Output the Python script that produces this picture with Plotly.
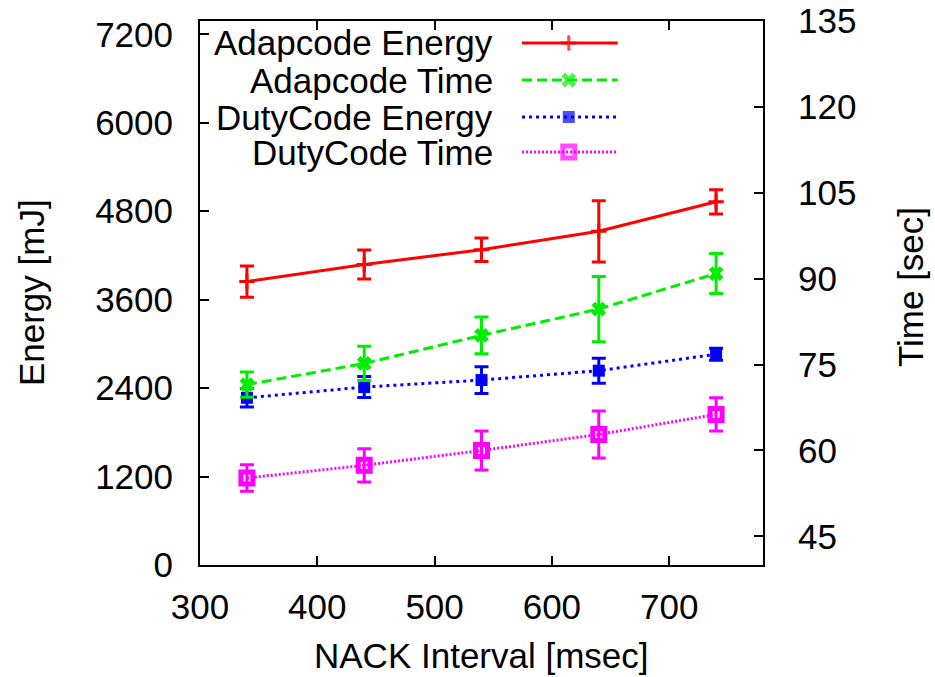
import plotly.graph_objects as go

# ---- data ----
nack_interval = [340, 440, 540, 640, 740]

adap_energy = [3845, 4077, 4277, 4527, 4927]
adap_energy_err = [211, 198, 160, 416, 164]

adap_time = [71.5, 75.2, 80.1, 84.7, 90.9]
adap_time_err = [2.2, 3.0, 3.2, 5.7, 3.5]

duty_energy = [2268, 2414, 2509, 2636, 2859]
duty_energy_err = [125, 143, 182, 170, 80]

duty_time = [55.2, 57.4, 60.0, 62.8, 66.3]
duty_time_err = [2.3, 2.9, 3.4, 4.1, 2.9]

series_names = ["Adapcode Energy", "Adapcode Time", "DutyCode Energy", "DutyCode Time"]
energy_ticks = [0, 1200, 2400, 3600, 4800, 6000, 7200]
time_ticks = [45, 60, 75, 90, 105, 120, 135]
x_ticks = [300, 400, 500, 600, 700]

FONT = "Liberation Sans, Arial, Helvetica, sans-serif"
FS = 35

styles = [
    dict(color="#ff0000", dash="solid", symbol="cross-thin", size=11, mlw=3),
    dict(color="#00ee00", dash="10px,5px", symbol="x", size=13, mlw=0),
    dict(color="#0000ff", dash="3px,4px", symbol="square", size=12, mlw=0),
    dict(color="#ff00ff", dash="2px,2px", symbol="square-open", size=12, mlw=5),
]

fig = go.Figure()

data_sets = [
    (adap_energy, adap_energy_err, "y"),
    (adap_time, adap_time_err, "y2"),
    (duty_energy, duty_energy_err, "y"),
    (duty_time, duty_time_err, "y2"),
]

for (vals, errs, yax), st, name in zip(data_sets, styles, series_names):
    fig.add_trace(go.Scatter(
        x=nack_interval, y=vals, yaxis=yax, name=name, mode="lines+markers",
        line=dict(color=st["color"], width=3, dash=st["dash"]),
        marker=dict(symbol=st["symbol"], size=st["size"], color=st["color"],
                    line=dict(color=st["color"], width=st["mlw"])),
        error_y=dict(type="data", array=errs, visible=True, color=st["color"],
                     thickness=3, width=7),
        showlegend=False,
    ))

# ---- legend drawn gnuplot style (text left, sample right) ----
leg_rows = [0.9596, 0.8915, 0.8235, 0.759]
for st, name, yy in zip(styles, series_names, leg_rows):
    fig.add_trace(go.Scatter(
        x=[0.572, 0.655, 0.742], y=[yy, yy, yy], xaxis="x3", yaxis="y3",
        mode="lines+markers",
        line=dict(color=st["color"], width=3, dash=st["dash"]),
        marker=dict(symbol=st["symbol"], size=[0, st["size"], 0], color=st["color"],
                    line=dict(color=st["color"], width=st["mlw"])),
        showlegend=False, hoverinfo="skip",
    ))
    fig.add_annotation(x=0.524, y=yy, xref="paper", yref="paper", text=name,
                       showarrow=False, xanchor="right", yanchor="middle",
                       font=dict(family=FONT, size=FS, color="black"))

axis_common = dict(showline=True, linecolor="black", linewidth=2, ticks="inside",
                   ticklen=9, tickwidth=1.5, tickcolor="black", showgrid=False,
                   zeroline=False, automargin=False,
                   tickfont=dict(family=FONT, size=FS, color="black"))

fig.add_annotation(x=0.5, y=-0.167, xref="paper", yref="paper", text="NACK Interval [msec]",
                   showarrow=False, xanchor="center", yanchor="middle",
                   font=dict(family=FONT, size=FS, color="black"))
fig.add_annotation(x=-0.3, y=0.5, xref="paper", yref="paper", text="Energy [mJ]",
                   textangle=-90, showarrow=False, xanchor="center", yanchor="middle",
                   font=dict(family=FONT, size=FS, color="black"))
fig.add_annotation(x=1.262, y=0.51, xref="paper", yref="paper", text="Time [sec]",
                   textangle=-90, showarrow=False, xanchor="center", yanchor="middle",
                   font=dict(family=FONT, size=FS, color="black"))

fig.update_layout(
    width=935, height=677,
    margin=dict(l=200, r=172, t=21, b=112),
    paper_bgcolor="white", plot_bgcolor="white",
    xaxis=dict(range=[300, 780], tickvals=x_ticks, mirror="ticks",
               ticklabelstandoff=10, **axis_common),
    yaxis=dict(range=[0, 7380], tickvals=energy_ticks, ticklabelstandoff=18,
               **axis_common),
    yaxis2=dict(range=[40, 135], tickvals=time_ticks, overlaying="y", side="right",
                ticklabelstandoff=26, **axis_common),
    xaxis3=dict(range=[0, 1], overlaying="x", visible=False, automargin=False),
    yaxis3=dict(range=[0, 1], overlaying="y", visible=False, automargin=False),
)

fig.write_html("out.html")
